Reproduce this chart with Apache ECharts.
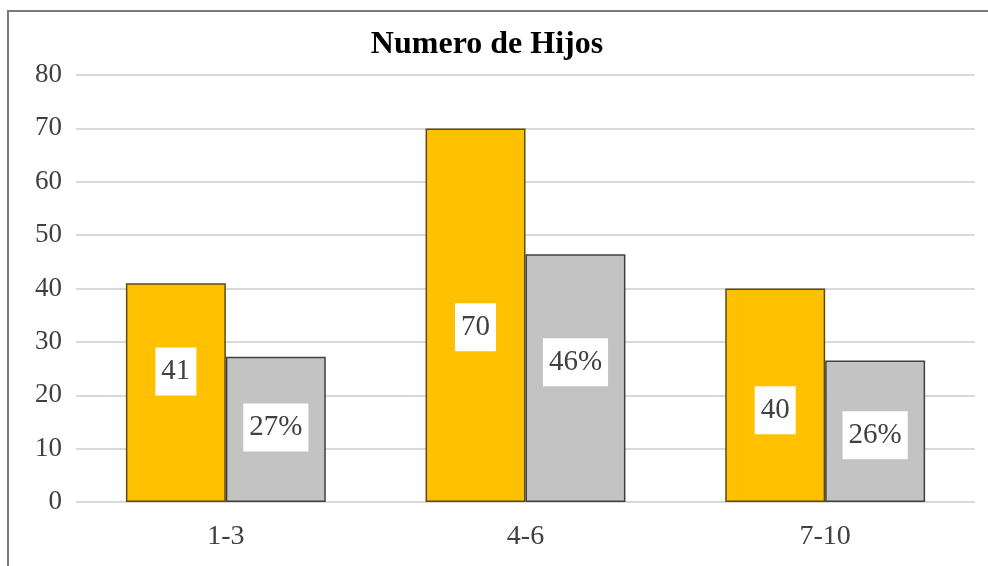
<!DOCTYPE html>
<html>
<head>
<meta charset="utf-8">
<script src="https://cdn.jsdelivr.net/npm/echarts@6/dist/echarts.min.js"></script>
<style>
  html, body { margin: 0; padding: 0; background: #fff; }
  #chart { width: 988px; height: 566px; }
  #frame {
    position: absolute; left: 7px; top: 10px; right: 0; bottom: 0;
    border-left: 2px solid #7a7a7a; border-top: 2px solid #7a7a7a;
    pointer-events: none;
  }
</style>
</head>
<body>
<div id="chart"></div>
<div id="frame"></div>
<script>
// categorias y valores
const categories = ['1-3', '4-6', '7-10'];
const cantidad = [41, 70, 40];
const porcentaje = [27.2, 46.4, 26.5];

// desplazamiento vertical de cada etiqueta (como en el original)
const shiftCantidad = [-21, 12, 15];
const shiftPorcentaje = [-2, -16, 4];

const serif = '"Liberation Serif", "DejaVu Serif", serif';

const labelBox = {
  show: true,
  position: 'inside',
  backgroundColor: '#fff',
  padding: [10, 6, 9, 6],
  color: '#404040',
  fontFamily: serif,
  fontSize: 29
};

function withShift(values, shifts) {
  return values.map((v, i) => ({ value: v, label: { offset: [0, shifts[i]] } }));
}

const chart = echarts.init(document.getElementById('chart'));
chart.setOption({
  animation: false,
  title: {
    text: 'Numero de Hijos',
    left: 482,
    textAlign: 'center',
    top: 24,
    textStyle: { fontFamily: serif, fontSize: 32, fontWeight: 'bold', color: '#000' }
  },
  grid: { left: 76, right: 13, top: 75, bottom: 64 },
  xAxis: {
    type: 'category',
    data: categories,
    axisLine: { show: false },
    axisTick: { show: false },
    axisLabel: { fontFamily: serif, fontSize: 28, color: '#404040', margin: 21 }
  },
  yAxis: {
    type: 'value',
    min: 0,
    max: 80,
    interval: 10,
    axisLabel: { fontFamily: serif, fontSize: 27, color: '#404040', margin: 14, align: 'right' },
    splitLine: { lineStyle: { color: '#d9d9d9', width: 2 } }
  },
  series: [
    {
      name: 'Cantidad',
      type: 'bar',
      data: withShift(cantidad, shiftCantidad),
      barGap: '0%',
      barCategoryGap: '33.3%',
      itemStyle: { color: '#FFC000', borderColor: '#5a4a1a', borderWidth: 1.5 },
      label: Object.assign({}, labelBox, { formatter: '{c}' })
    },
    {
      name: 'Porcentaje',
      type: 'bar',
      data: withShift(porcentaje, shiftPorcentaje),
      itemStyle: { color: '#C3C3C3', borderColor: '#404040', borderWidth: 1.5 },
      label: Object.assign({}, labelBox, {
        formatter: p => Math.floor(p.value) + '%'
      })
    }
  ]
});
</script>
</body>
</html>
